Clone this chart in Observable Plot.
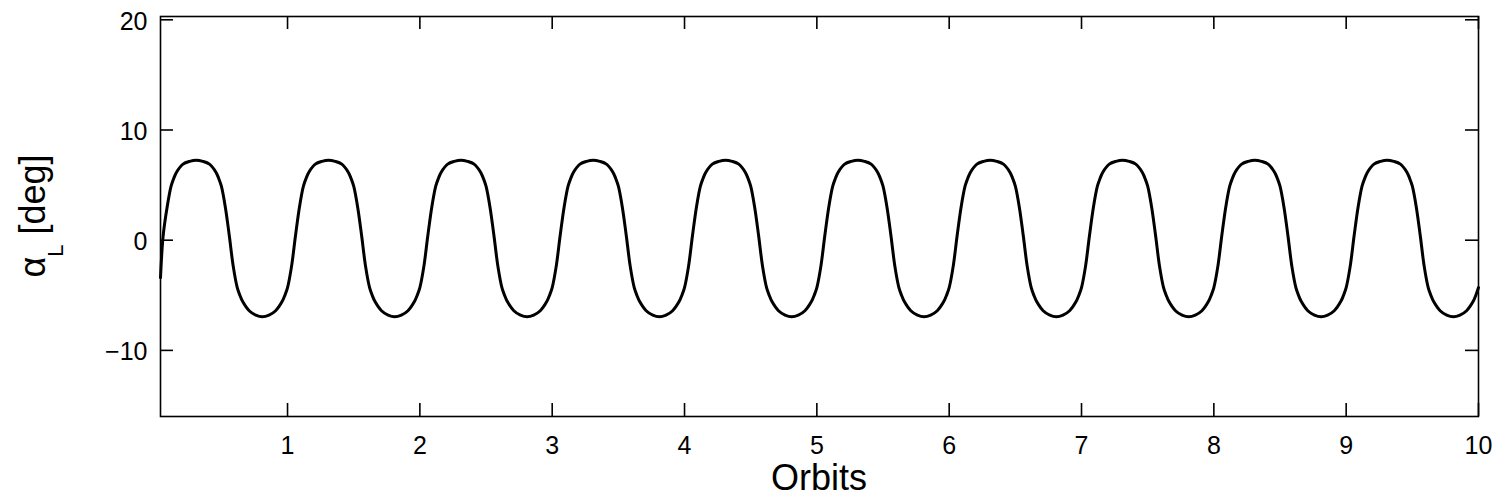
<!DOCTYPE html>
<html>
<head>
<meta charset="utf-8">
<script src="https://cdn.jsdelivr.net/npm/d3@7"></script>
<script src="https://cdn.jsdelivr.net/npm/@observablehq/plot@0.6"></script>
<style>
  html, body { margin: 0; padding: 0; background: #fff; }
  #chart { width: 1501px; height: 502px; }
</style>
</head>
<body>
<div id="chart"></div>
<script>
// Axis ticks
const xTicks = [1, 2, 3, 4, 5, 6, 7, 8, 9, 10];
const yTicks = [-10, 0, 10, 20];

// Sample positions within each orbit (fraction of an orbit)
const cyclePhase = [0, 0.03, 0.06, 0.09, 0.12, 0.14, 0.16, 0.21, 0.26, 0.31, 0.36, 0.41, 0.46, 0.48,
                    0.50, 0.53, 0.56, 0.59, 0.62, 0.64, 0.66, 0.71, 0.76, 0.81, 0.86, 0.91, 0.96, 0.98];

// Orbit index of each row below
const orbitStart = [0, 1, 2, 3, 4, 5, 6, 7, 8, 9];

// First sample of the run
const startOrbit = 0.04;
const startAlpha = -3.4;

// alpha_L [deg] at each sample position, one row per orbit
const alphaByOrbit = [
  [null, null, 0.4, 3.0, 4.9, 5.6, 6.15, 6.9, 7.15, 7.25, 7.15, 6.9, 6.15, 5.6, 4.9, 3.0, 0.4, -2.4, -4.3, -5.0, -5.55, -6.4, -6.8, -6.95, -6.8, -6.4, -5.55, -5.0],
  [-4.3, -2.4, 0.4, 3.0, 4.9, 5.6, 6.15, 6.9, 7.15, 7.25, 7.15, 6.9, 6.15, 5.6, 4.9, 3.0, 0.4, -2.4, -4.3, -5.0, -5.55, -6.4, -6.8, -6.95, -6.8, -6.4, -5.55, -5.0],
  [-4.3, -2.4, 0.4, 3.0, 4.9, 5.6, 6.15, 6.9, 7.15, 7.25, 7.15, 6.9, 6.15, 5.6, 4.9, 3.0, 0.4, -2.4, -4.3, -5.0, -5.55, -6.4, -6.8, -6.95, -6.8, -6.4, -5.55, -5.0],
  [-4.3, -2.4, 0.4, 3.0, 4.9, 5.6, 6.15, 6.9, 7.15, 7.25, 7.15, 6.9, 6.15, 5.6, 4.9, 3.0, 0.4, -2.4, -4.3, -5.0, -5.55, -6.4, -6.8, -6.95, -6.8, -6.4, -5.55, -5.0],
  [-4.3, -2.4, 0.4, 3.0, 4.9, 5.6, 6.15, 6.9, 7.15, 7.25, 7.15, 6.9, 6.15, 5.6, 4.9, 3.0, 0.4, -2.4, -4.3, -5.0, -5.55, -6.4, -6.8, -6.95, -6.8, -6.4, -5.55, -5.0],
  [-4.3, -2.4, 0.4, 3.0, 4.9, 5.6, 6.15, 6.9, 7.15, 7.25, 7.15, 6.9, 6.15, 5.6, 4.9, 3.0, 0.4, -2.4, -4.3, -5.0, -5.55, -6.4, -6.8, -6.95, -6.8, -6.4, -5.55, -5.0],
  [-4.3, -2.4, 0.4, 3.0, 4.9, 5.6, 6.15, 6.9, 7.15, 7.25, 7.15, 6.9, 6.15, 5.6, 4.9, 3.0, 0.4, -2.4, -4.3, -5.0, -5.55, -6.4, -6.8, -6.95, -6.8, -6.4, -5.55, -5.0],
  [-4.3, -2.4, 0.4, 3.0, 4.9, 5.6, 6.15, 6.9, 7.15, 7.25, 7.15, 6.9, 6.15, 5.6, 4.9, 3.0, 0.4, -2.4, -4.3, -5.0, -5.55, -6.4, -6.8, -6.95, -6.8, -6.4, -5.55, -5.0],
  [-4.3, -2.4, 0.4, 3.0, 4.9, 5.6, 6.15, 6.9, 7.15, 7.25, 7.15, 6.9, 6.15, 5.6, 4.9, 3.0, 0.4, -2.4, -4.3, -5.0, -5.55, -6.4, -6.8, -6.95, -6.8, -6.4, -5.55, -5.0],
  [-4.3, -2.4, 0.4, 3.0, 4.9, 5.6, 6.15, 6.9, 7.15, 7.25, 7.15, 6.9, 6.15, 5.6, 4.9, 3.0, 0.4, -2.4, -4.3, -5.0, -5.55, -6.4, -6.8, -6.95, -6.8, -6.4, -5.55, -5.0]
];

// Last sample, at the end of the tenth orbit
const finalOrbit = 10;
const finalAlpha = -4.3;

// Flatten into {orbit, alpha} records
const series = [{orbit: startOrbit, alpha: startAlpha}];
orbitStart.forEach((o, i) => {
  cyclePhase.forEach((p, j) => {
    const v = alphaByOrbit[i][j];
    if (v !== null) series.push({orbit: o + p, alpha: v});
  });
});
series.push({orbit: finalOrbit, alpha: finalAlpha});

const W = 1501, H = 502;
const mTop = 16, mBottom = 86, mLeft = 160, mRight = 23;
const innerH = H - mTop - mBottom;
const innerW = W - mLeft - mRight;
const tickLen = 13;
const font = "'Liberation Sans', Arial, Helvetica, sans-serif";

const chart = Plot.plot({
  width: W,
  height: H,
  marginTop: mTop,
  marginBottom: mBottom,
  marginLeft: mLeft,
  marginRight: mRight,
  style: {fontFamily: font, background: "#fff", color: "#000"},
  x: {domain: [0.04, 10]},
  y: {domain: [-16, 20.3]},
  marks: [
    // inward ticks on all four sides
    Plot.tickX(xTicks, {x: d => d, insetTop: innerH - tickLen, stroke: "#000", strokeWidth: 1.6}),
    Plot.tickX(xTicks, {x: d => d, insetBottom: innerH - tickLen, stroke: "#000", strokeWidth: 1.6}),
    Plot.tickY(yTicks, {y: d => d, insetRight: innerW - tickLen, stroke: "#000", strokeWidth: 1.6}),
    Plot.tickY(yTicks, {y: d => d, insetLeft: innerW - tickLen, stroke: "#000", strokeWidth: 1.6}),
    Plot.axisX(xTicks, {tickSize: 0, tickPadding: 20, fontSize: 25, label: null, tickFormat: d3.format("d")}),
    Plot.axisY(yTicks, {tickSize: 0, tickPadding: 13, fontSize: 25, label: null, dy: 2}),
    Plot.line(series, {x: "orbit", y: "alpha", stroke: "#000", strokeWidth: 3, curve: "catmull-rom"}),
    Plot.frame({stroke: "#000", strokeWidth: 1.6})
  ]
});

const svg = d3.select(chart);
const xr = chart.scale("x").range;

// x-axis title
svg.append("text")
  .attr("x", (xr[0] + xr[1]) / 2)
  .attr("y", 490)
  .attr("text-anchor", "middle")
  .attr("font-family", font)
  .attr("font-size", 36)
  .attr("fill", "#000")
  .text("Orbits");

// y-axis title: alpha with subscript L
const yt = svg.append("text")
  .attr("transform", "translate(45,216) rotate(-90)")
  .attr("text-anchor", "middle")
  .attr("font-family", font)
  .attr("font-size", 36)
  .attr("fill", "#000");
yt.append("tspan").text("α");
yt.append("tspan").attr("font-size", 22).attr("dy", 18).text("L");
yt.append("tspan").attr("dy", -18).text(" [deg]");

document.getElementById("chart").appendChild(chart);
</script>
</body>
</html>
